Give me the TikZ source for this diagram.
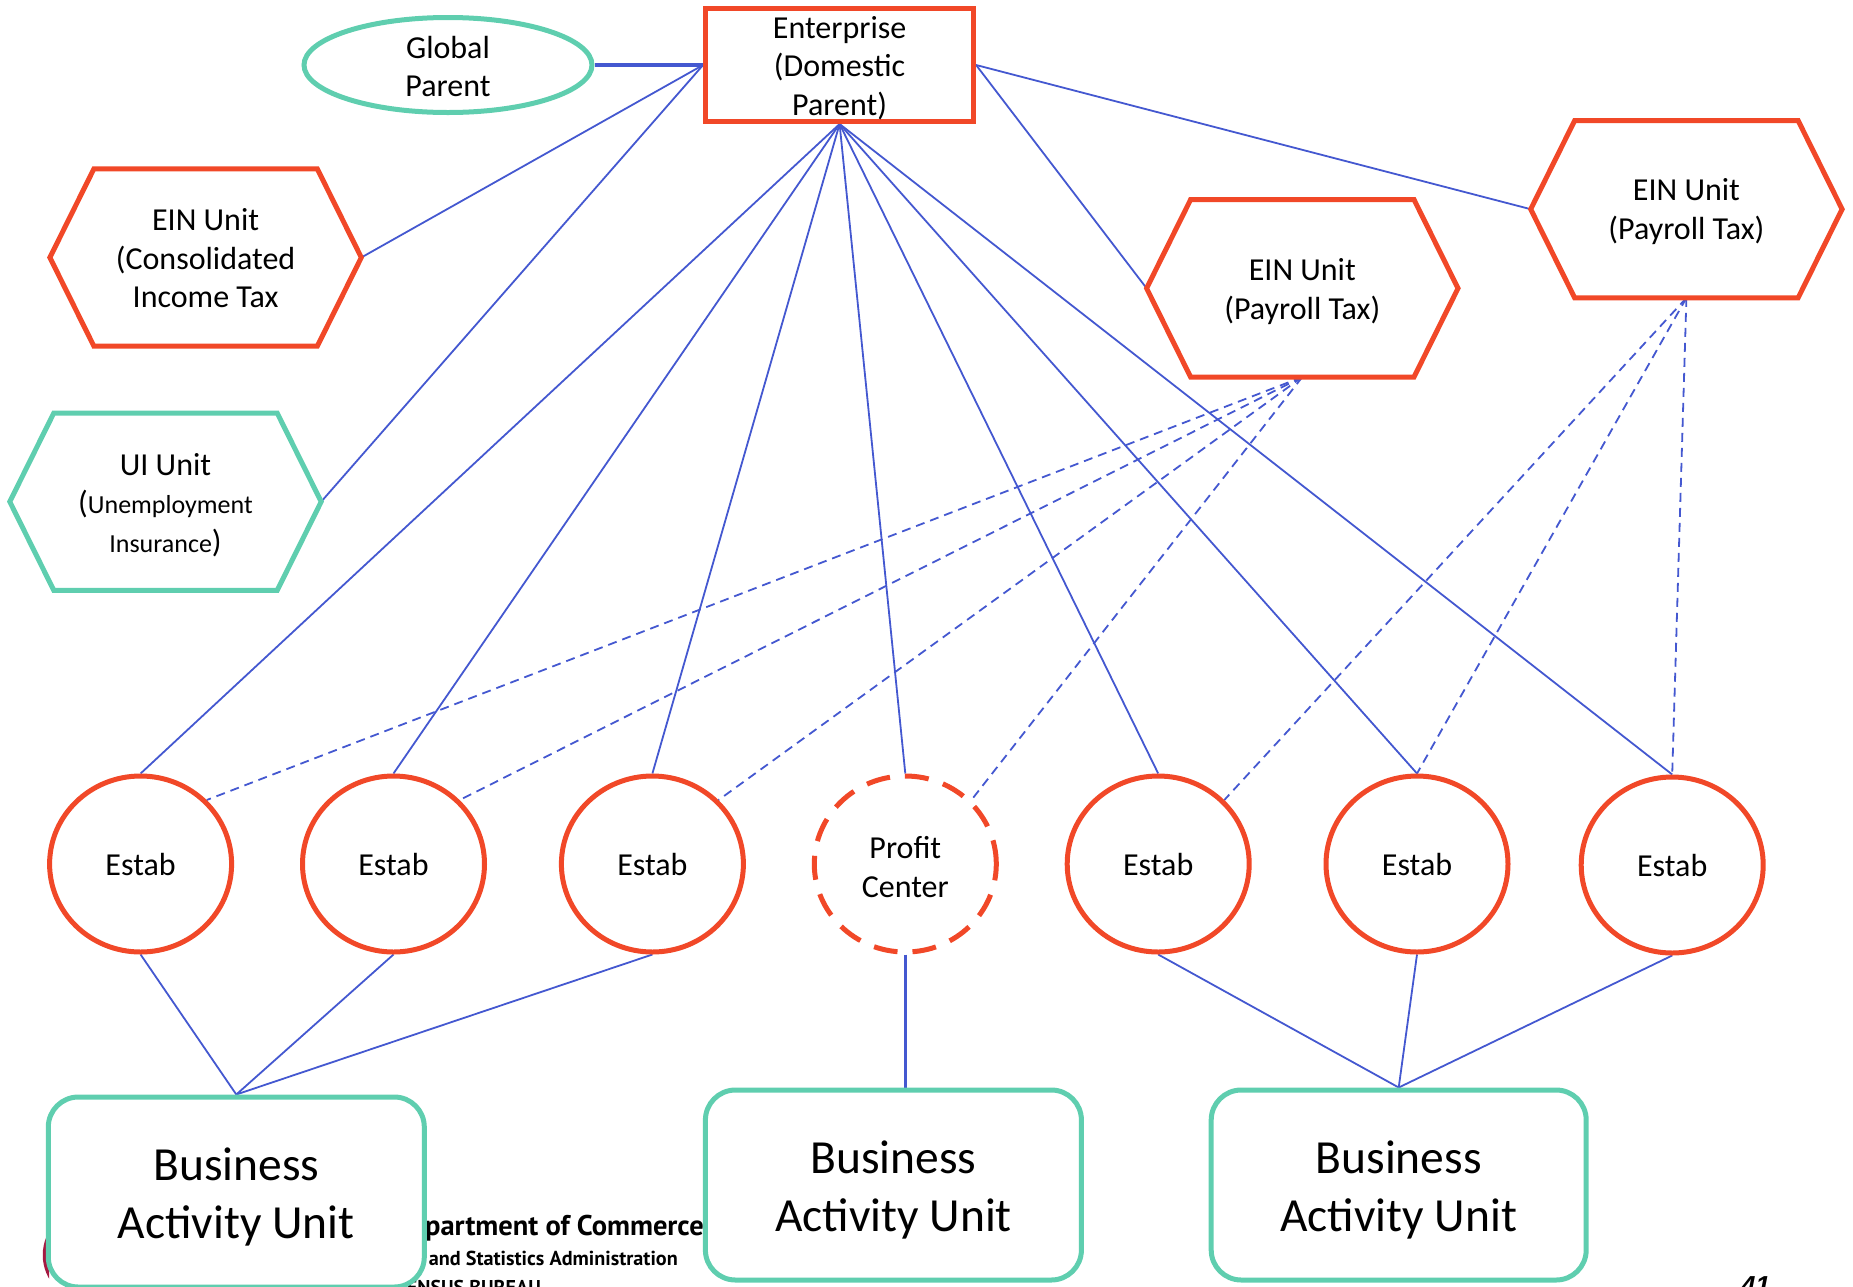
\documentclass[tikz,border=0pt]{standalone}
\usepackage{fontspec}
\setmainfont{Carlito}
\newfontfamily\footfont{PT Sans}
\newfontfamily\pagefont{Liberation Sans}
\usetikzlibrary{shapes.geometric}
\definecolor{redc}{RGB}{241,72,40}
\definecolor{tealc}{RGB}{95,206,175}
\definecolor{bluec}{RGB}{68,88,208}
\definecolor{logoc}{RGB}{165,25,65}
\pgfdeclarelayer{bg}
\pgfsetlayers{bg,main}
\newcommand\drawhexof[2]{\draw[#2] (#1.west) -- ([xshift=44pt]#1.north west) -- ([xshift=-44pt]#1.north east) -- (#1.east) -- ([xshift=-44pt]#1.south east) -- ([xshift=44pt]#1.south west) -- cycle;}
\begin{document}
\begin{tikzpicture}[x=1pt,y=-1pt,
  txt/.style={font=\fontsize{32}{38.5}\selectfont, align=center, inner sep=0pt},
  hexbox/.style={inner sep=0pt, minimum width=311pt, minimum height=177pt},
  hexred/.style={draw=redc, line width=5pt},
  hexteal/.style={draw=tealc, line width=5pt},
  estabnode/.style={txt, ellipse, draw=redc, line width=5pt, fill=white, minimum width=182pt, minimum height=176pt},
  baunode/.style={draw=tealc, line width=5pt, fill=white, rounded corners=30pt, inner sep=0pt},
  bautext/.style={align=center, font=\fontsize{47.5}{58}\selectfont, inner sep=0pt},
  link/.style={draw=bluec, line width=1.8pt},
  thicklink/.style={draw=bluec, line width=3.5pt},
  dlink/.style={draw=bluec, line width=1.8pt, dash pattern=on 9pt off 6pt},
  foot/.style={inner sep=0pt, anchor=base east}
]
\useasboundingbox (0,0) rectangle (1853,1286);

% top level
\node[ellipse, draw=tealc, line width=5pt, minimum width=288pt, minimum height=95pt] (gp) at (448,65) {};
\node[txt] (gpt) at ([yshift=-1.5pt]gp.center) {Global\\Parent};
\node[rectangle, draw=redc, line width=5pt, minimum width=268pt, minimum height=113pt] (ent) at (839.6,65) {};
\node[txt] (entt) at ([yshift=-3pt]ent.center) {Enterprise\\(Domestic\\Parent)};

% hexagon units
\node[hexbox] (einc) at (205.6,257.5) {};
\node[txt] (einct) at ([yshift=-1pt]einc.center) {EIN Unit\\(Consolidated\\Income Tax};
\node[hexbox] (ui) at (165.5,501.7) {};
\node[txt] (uit) at ([yshift=-3.5pt]ui.center) {UI Unit\\(\fontsize{26}{39}\selectfont Unemployment\\\fontsize{26}{39}\selectfont Insurance\fontsize{32}{39}\selectfont)};
\node[hexbox] (pay1) at (1302.3,288.3) {};
\node[txt] (pay1t) at ([yshift=-3.5pt]pay1.center) {EIN Unit\\(Payroll Tax)};
\node[hexbox] (pay2) at (1686.4,209.2) {};
\node[txt] (pay2t) at ([yshift=-2.5pt]pay2.center) {EIN Unit\\(Payroll Tax)};
\drawhexof{einc}{hexred}
\drawhexof{ui}{hexteal}
\drawhexof{pay1}{hexred}
\drawhexof{pay2}{hexred}

% establishments
\node[estabnode] (e1) at (140.6,864) {Estab};
\node[estabnode] (e2) at (393.5,864) {Estab};
\node[estabnode] (e3) at (652.4,864) {Estab};
\node[ellipse, draw=redc, line width=5pt, fill=white, minimum width=182pt, minimum height=176pt, dash pattern=on 24pt off 15pt] (pc) at (905.3,864) {};
\node[txt] (pct) at ([yshift=-3pt]pc.center) {Profit\\Center};
\node[estabnode] (e5) at (1158.2,864) {Estab};
\node[estabnode] (e6) at (1417,864) {Estab};
\node[estabnode] (e7) at (1672.2,865) {Estab};

% footer (partly hidden)
\begin{scope}
\clip (0,1150) rectangle (49,1286);
\fill[logoc] (89.75,1255) circle (47pt);
\end{scope}
\node[foot, font=\footfont\bfseries\fontsize{28.5}{30}\selectfont] (ft1) at (704,1235) {U.S. Department of Commerce};
\node[foot, font=\footfont\bfseries\fontsize{20.2}{22}\selectfont] (ft2) at (678,1265.7) {Economics and Statistics Administration};
\node[foot, font=\footfont\bfseries\fontsize{20}{22}\selectfont] (ft3) at (541,1294) {U.S. CENSUS BUREAU};
\node[inner sep=0pt, anchor=base west, font=\pagefont\bfseries\itshape\fontsize{26}{30}\selectfont] (pg) at (1741,1294) {41};

% business activity units
\node[baunode, minimum width=376pt, minimum height=190pt] (b1) at (236.3,1192) {};
\node[bautext] (b1t) at ([yshift=-5pt]b1.center) {Business\\Activity Unit};
\node[baunode, minimum width=376pt, minimum height=190pt] (b2) at (893.4,1185) {};
\node[bautext] (b2t) at ([yshift=-5pt]b2.center) {Business\\Activity Unit};
\node[baunode, minimum width=375pt, minimum height=190pt] (b3) at (1398.7,1185) {};
\node[bautext] (b3t) at ([yshift=-5pt]b3.center) {Business\\Activity Unit};

% connectors
\begin{pgfonlayer}{bg}
\draw[thicklink] (gp.east) -- (ent.west);
\draw[link] (ent.west) -- (einc.east);
\draw[link] (ent.west) -- (ui.east);
\foreach \n in {e1,e2,e3,pc,e5,e6,e7} \draw[link] (ent.south) -- (\n.north);
\draw[link] (ent.east) -- (pay1.west);
\draw[link] (ent.east) -- (pay2.west);
\foreach \n in {e1,e2,e3,pc} \draw[dlink] (pay1.south) -- (\n.north east);
\draw[dlink] (pay2.south) -- (e5.north east);
\draw[dlink] (pay2.south) -- (e6.north);
\draw[dlink] (pay2.south) -- (e7.north);
\foreach \n in {e1,e2,e3} \draw[link] (\n.south) -- (b1.north);
\draw[thicklink] (pc.south) -- (pc.south |- b2.north);
\foreach \n in {e5,e6,e7} \draw[link] (\n.south) -- (b3.north);
\end{pgfonlayer}
\end{tikzpicture}
\end{document}
